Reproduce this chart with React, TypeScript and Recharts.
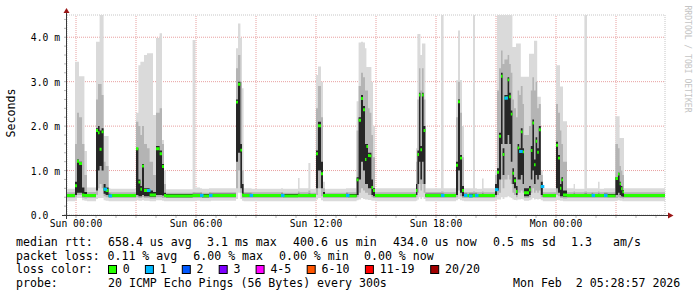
import React from 'react';
import { Area, CartesianGrid, ComposedChart, ReferenceLine, Scatter, XAxis, YAxis } from 'recharts';

// hours since Sun 00:00, one row per step change of the smoke
const hours = [
    -0.45, -0.05, 0.05, 0.15, 0.3, 0.42, 0.55, 1.0, 1.1, 1.18,
    1.28, 1.38, 1.48, 1.63, 1.72, 3.0, 3.12, 3.22, 3.3, 3.4,
    3.55, 3.68, 3.85, 4.0, 4.18, 4.3, 4.4, 4.5, 5.83, 5.97,
    6.2, 6.3, 6.65, 6.75, 8.0, 8.1, 8.22, 8.3, 8.38, 8.68,
    8.78, 10.25, 10.35, 11.1, 11.18, 11.62, 11.72, 12.0, 12.1, 12.25,
    12.35, 12.45, 13.5, 13.6, 14.03, 14.13, 14.25, 14.35, 14.45, 14.52,
    14.6, 14.68, 14.77, 14.85, 14.95, 17.0, 17.07, 17.15, 17.22, 17.3,
    17.38, 17.47, 18.25, 18.38, 19.0, 19.1, 19.2, 19.3, 19.4, 19.55,
    19.65, 19.85, 19.95, 20.05, 20.3, 20.38, 20.95, 21.05, 21.15, 21.25,
    21.33, 21.42, 21.5, 21.58, 21.66, 21.74, 21.82, 21.9, 22.0, 22.08,
    22.16, 22.24, 22.33, 22.4, 22.65, 22.74, 22.82, 22.9, 22.98, 23.06,
    23.14, 23.24, 23.34, 24.0, 24.1, 24.2, 24.27, 24.35, 24.55, 24.88,
    24.95, 25.42, 25.55, 25.78, 25.86, 26.1, 26.18, 26.4, 26.58, 26.97,
    27.1, 27.18, 27.25, 27.32, 27.4, 29.45,
];

// rtt in ms
const minRtt = [
    .31, .33, .38, .38, .33, .32, .31, .36, .38, .38,
    .38, .33, .32, .31, .31, .33, .32, .32, .33, .32,
    .32, .31, .31, .33, .33, .32, .31, .31, .31, .32,
    .31, .31, .31, .32, .36, .5, .36, .32, .31, .31,
    .31, .31, .31, .31, .31, .31, .31, .35, .38, .33,
    .31, .31, .31, .31, .33, .35, .38, .36, .35, .35,
    .34, .34, .32, .32, .31, .32, .35, .4, .36, .4,
    .36, .31, .31, .31, .33, .36, .33, .32, .31, .31,
    .31, .31, .31, .31, .31, .31, .33, .35, .35, .4,
    .36, .4, .4, .42, .4, .38, .35, .34, .33, .35,
    .35, .36, .35, .32, .33, .35, .38, .35, .36, .35,
    .36, .33, .31, .34, .33, .32, .32, .31, .31, .31,
    .31, .31, .31, .31, .31, .31, .31, .31, .31, .32,
    .33, .32, .32, .31, .31, .31,
];
const p10Rtt = [
    .38, .40, .45, .45, .38, .37, .38, .45, .6, .7,
    .6, .42, .4, .38, .38, .4, .38, .38, .4, .38,
    .38, .37, .37, .4, .4, .38, .38, .38, .38, .38,
    .38, .38, .38, .38, .6, 1.0, .5, .38, .38, .38,
    .38, .38, .38, .38, .38, .38, .38, .45, .6, .42,
    .38, .38, .38, .38, .4, .5, .6, .55, .5, .5,
    .45, .45, .4, .38, .38, .4, .5, .7, .55, .7,
    .5, .38, .38, .38, .4, .55, .42, .38, .38, .38,
    .38, .38, .38, .38, .38, .38, .4, .45, .5, .8,
    .6, .8, .8, .9, .8, .7, .5, .45, .4, .5,
    .5, .55, .5, .38, .4, .5, .6, .5, .55, .5,
    .55, .4, .38, .45, .42, .38, .38, .37, .38, .38,
    .38, .38, .38, .38, .38, .38, .38, .38, .38, .38,
    .4, .38, .38, .37, .38, .38,
];
const loRtt = [
    .41, .45, .50, .50, .42, .41, .41, .55, 1.0, 1.1,
    1.0, .48, .45, .41, .41, .45, .42, .42, .45, .42,
    .42, .41, .41, .45, .45, .44, .41, .40, .41, .41,
    .41, .40, .41, .41, 1.2, 1.4, .6, .42, .41, .41,
    .41, .41, .41, .41, .41, .41, .41, .6, 1.0, .6,
    .41, .41, .41, .41, .45, .8, 1.2, 1.0, .7, .7,
    .6, .6, .45, .42, .41, .45, .7, 1.2, .8, 1.2,
    .7, .41, .41, .41, .45, 1.0, .5, .42, .41, .41,
    .41, .41, .41, .41, .41, .41, .45, .55, .8, 1.6,
    .9, 1.6, 1.6, 1.8, 1.6, 1.2, .7, .6, .45, .8,
    .8, .9, .7, .42, .45, .8, 1.0, .7, .9, .8,
    .9, .45, .41, .6, .5, .42, .42, .41, .41, .41,
    .41, .41, .41, .41, .41, .41, .41, .41, .41, .45,
    .5, .45, .42, .41, .41, .41,
];
const hiRtt = [
    .47, .75, 1.25, 1.2, .62, .52, .47, 1.95, 2.0, 1.9,
    1.95, .7, .62, .48, .47, 1.5, .8, .65, 1.15, .6,
    .6, .55, .52, 1.55, 1.45, 1.15, .5, .47, .48, .48,
    .48, .47, .48, .48, 2.6, 3.0, 1.6, .7, .48, .48,
    .47, .48, .47, .48, .47, .48, .47, 1.45, 2.1, 1.2,
    .52, .47, .48, .47, .85, 2.2, 2.7, 2.45, 1.6, 1.6,
    1.4, 1.4, .8, .6, .47, .7, 1.45, 2.75, 1.55, 2.75,
    2.0, .48, .48, .47, 1.2, 2.6, 1.35, .65, .48, .47,
    .48, .48, .48, .47, .48, .47, .7, 1.05, 1.85, 3.2,
    1.5, 2.7, 2.7, 3.1, 2.75, 2.35, 1.05, .85, .65, 1.6,
    1.5, 1.95, 1.5, .6, .65, 1.55, 2.15, 1.25, 1.75, 1.5,
    2.0, .75, .47, 1.65, 1.35, .7, .85, .55, .47, .48,
    .47, .48, .47, .48, .47, .48, .47, .48, .47, .85,
    .95, .75, .65, .56, .47, .47,
];
const p90Rtt = [
    .51, 1.6, 2.3, 2.2, 1.6, .9, .52, 2.6, 2.95, 2.95,
    2.7, 1.2, 1.1, .52, .51, 2.1, 2.0, 1.8, 2.0, 1.6,
    1.5, 1.2, .9, 2.3, 2.4, 1.6, .7, .50, .52, .51,
    .52, .50, .52, .51, 3.3, 3.6, 3.0, 1.0, .52, .52,
    .51, .52, .50, .53, .51, .55, .50, 2.4, 2.9, 2.2,
    .6, .50, .52, .51, 1.9, 2.9, 3.2, 3.1, 2.8, 2.8,
    2.4, 2.3, 1.8, 1.3, .51, 1.2, 2.6, 3.3, 2.8, 3.3,
    2.6, .52, .53, .51, 2.2, 3.0, 2.3, 1.3, .52, .51,
    .52, .53, .52, .51, .53, .51, .9, 2.8, 3.3, 3.7,
    3.4, 3.5, 3.5, 3.6, 3.4, 3.2, 2.6, 2.4, 2.2, 2.8,
    2.7, 2.9, 2.5, 1.8, 2.0, 2.8, 3.1, 2.8, 3.0, 2.4,
    2.5, .9, .51, 2.5, 2.3, 1.9, 1.6, 1.2, .51, .53,
    .51, .53, .51, .52, .51, .53, .51, .52, .51, 1.6,
    1.5, 1.1, 1.0, .9, .51, .51,
];
const maxRtt = [
    .59, 3.45, 3.45, 3.12, 3.12, 1.44, .62, 3.9, 3.9, 4.5,
    4.5, 1.78, 1.78, .6, .59, 2.3, 3.37, 3.45, 3.45, 3.6,
    3.64, 3.64, 2.25, 3.98, 4.09, 1.69, 1.0, .58, 3.94, .62,
    .6, .59, .6, .6, 3.75, 4.31, 3.98, 2.85, .6, .6,
    .59, .6, .59, .83, .6, 1.17, .59, 3.15, 3.34, 3.0,
    .75, .59, .6, .6, 2.56, 3.88, 3.9, 3.88, 3.75, 3.33,
    3.33, 3.33, 2.99, 2.0, .6, 1.5, 4.07, 4.07, 3.6, 3.86,
    3.86, .6, 4.5, .6, 3.03, 4.15, 3.04, 2.0, .6, .6,
    .6, 4.5, .6, .59, .82, .6, 1.0, 4.5, 4.5, 4.5,
    4.5, 4.5, 4.5, 4.5, 4.5, 4.5, 3.78, 3.78, 3.86, 3.86,
    3.86, 3.11, 3.11, 3.11, 3.63, 3.63, 3.63, 3.92, 3.92, 2.66,
    2.66, 1.0, .6, 3.37, 3.37, 2.89, 2.89, 2.11, .6, .7,
    .59, 4.5, .6, .6, .6, .75, .59, .6, .6, 2.22,
    2.22, 1.73, 1.73, 1.73, .6, .6,
];
const medianRtt = [
    .44, .66, 1.21, 1.16, .45, .44, .44, 1.9, 1.85, 1.48,
    1.87, .58, .55, .43, .44, 1.49, .74, .58, 1.1, .55,
    .55, .45, .45, 1.49, 1.38, 1.09, .44, .43, .44, .44,
    .44, .43, .44, .44, 2.54, 2.94, 1.46, .45, .44, .44,
    .44, .44, .43, .44, .44, .44, .44, 1.38, 2.01, .93,
    .44, .44, .44, .43, .79, 2.13, 2.62, 2.37, 1.25, 1.54,
    1.34, 1.33, .62, .55, .44, .55, 1.36, 2.7, 1.47, 2.7,
    1.9, .44, .44, .44, 1.12, 2.55, 1.28, .55, .44, .44,
    .43, .44, .44, .44, .44, .44, .57, .96, 1.77, 3.12,
    1.36, 2.63, 2.64, 3.04, 2.66, 2.27, .94, .77, .53, 1.51,
    1.43, 1.87, 1.42, .5, .57, 1.45, 2.07, 1.13, 1.66, 1.41,
    1.92, .64, .44, 1.57, 1.28, .6, .79, .45, .44, .44,
    .44, .44, .44, .44, .44, .44, .44, .44, .43, .82,
    .92, .7, .59, .52, .44, .44,
];
// lost pings out of 20
const lostPings = [
    0, 0, 0, 0, 0, 0, 0, 0, 0, 0,
    0, 1, 0, 1, 0, 0, 0, 0, 0, 0,
    1, 0, 0, 0, 0, 0, 0, 0, 0, 0,
    1, 0, 1, 0, 0, 0, 0, 0, 0, 1,
    0, 1, 0, 0, 0, 0, 0, 0, 0, 0,
    0, 0, 1, 0, 0, 0, 0, 0, 0, 0,
    0, 0, 0, 0, 0, 0, 0, 0, 0, 0,
    0, 0, 1, 0, 0, 0, 0, 0, 1, 0,
    1, 0, 1, 0, 0, 0, 1, 0, 0, 0,
    0, 1, 0, 0, 0, 0, 0, 0, 0, 0,
    1, 0, 0, 0, 0, 0, 0, 0, 0, 0,
    0, 1, 0, 0, 0, 0, 0, 0, 0, 0,
    0, 0, 0, 1, 0, 0, 0, 1, 0, 0,
    0, 0, 0, 0, 0, 0,
];

const lossLabels = ['0', '1', '2', '3', '4-5', '6-10', '11-19', '20/20'];
const lossColors = ['#26ff00', '#00b8ff', '#0059ff', '#7e00ff', '#ff00ff', '#ff5500', '#ff0000', '#a10000'];

const xLabelHours = [0, 6, 12, 18, 24];
const xLabels = ['Sun 00:00', 'Sun 06:00', 'Sun 12:00', 'Sun 18:00', 'Mon 00:00'];
const hourTicks = Array.from({ length: 30 }, (_, i) => i);
const majorHours = hourTicks.filter((h) => h % 3 === 0);
const yTicks = Array.from({ length: 23 }, (_, i) => i / 5);
const majorY = [1, 2, 3, 4];

const MONO = "'DejaVu Sans Mono', monospace";
const W = 697;
const H = 297;
const MARGIN = { top: 15, right: 32, bottom: 52, left: 17 };
const X_DOMAIN: [number, number] = [-0.45, 29.45];
const Y_DOMAIN: [number, number] = [0, 4.5];
const MED_HALF = 0.033;

const rows = hours.map((h, i) => ({
    h,
    min: minRtt[i],
    p10: p10Rtt[i],
    lo: loRtt[i],
    hi: hiRtt[i],
    p90: p90Rtt[i],
    max: maxRtt[i],
    med: medianRtt[i],
    loss: lostPings[i],
}));
const lossRows = rows.filter((r) => r.loss > 0);

const lossBucket = (n: number) => {
    if (n <= 3) return n;
    if (n <= 5) return 4;
    if (n <= 10) return 5;
    if (n <= 19) return 6;
    return 7;
};

const YTick = ({ x, y, payload }: any) => {
    const v = payload.value;
    if (Math.abs(v - Math.round(v)) > 1e-6) return <g />;
    const label = v === 0 ? '0.0  ' : `${v.toFixed(1)} m`;
    return (
        <text x={x} y={y} dy="0.42em" textAnchor="end" fontFamily={MONO} fontSize={9.7} fill="#000"
            style={{ whiteSpace: 'pre' }} xmlSpace="preserve">
            {label}
        </text>
    );
};

const xFmt = (h: number) => {
    const i = xLabelHours.indexOf(h);
    return i >= 0 ? xLabels[i] : '';
};

const LossMark = (p: any) => (
    <rect x={p.cx} y={p.cy - 1.5} width={3.5} height={3} fill={lossColors[lossBucket(p.payload.loss)]} />
);

const legendRows = [
    { y: 241.7, items: [[16, 'median rtt:'], [108, '658.4 us avg'], [207, '3.1 ms max'], [293, '400.6 us min'], [393, '434.0 us now'], [493, '0.5 ms sd'], [571, '1.3'], [613, 'am/s']] },
    { y: 255.7, items: [[16, 'packet loss:'], [107.5, '0.11 % avg'], [193.3, '6.00 % max'], [279, '0.00 % min'], [364, '0.00 % now']] },
    { y: 269.3, items: [[16, 'loss color:']] },
    { y: 283.3, items: [[16, 'probe:'], [108, '20 ICMP Echo Pings (56 Bytes) every 300s'], [513, 'Mon Feb  2 05:28:57 2026']] },
];

const CHAR_W = 6.98;

const App: React.FC = () => {
    // loss colour boxes, laid out one after another like rrdtool does
    let cursor = 108;
    const boxes = lossLabels.map((lab, i) => {
        const bx = cursor;
        const lx = bx + 14.8;
        cursor = lx + lab.length * 7.1 + 15;
        return { bx, lx, lab, color: lossColors[i] };
    });

    return (
        <div style={{ position: 'absolute', left: 0, top: 0, width: W, height: H, background: '#fff' }}>
            {/* grid layer, drawn under the smoke */}
            <div style={{ position: 'absolute', left: 0, top: 0 }}>
                <ComposedChart width={W} height={H} data={rows} margin={MARGIN}>
                    <XAxis type="number" dataKey="h" domain={X_DOMAIN} allowDataOverflow ticks={hourTicks}
                        interval={0} tick={false} axisLine={false} tickLine={false} height={30} />
                    <YAxis type="number" domain={Y_DOMAIN} allowDataOverflow ticks={yTicks} interval={0}
                        tick={false} axisLine={false} tickLine={false} width={50} />
                    <CartesianGrid stroke="#c6c6c6" strokeDasharray="1 1" />
                    {majorHours.map((h) => (
                        <ReferenceLine key={`vx${h}`} x={h} stroke="#e8a0a0" strokeDasharray="1 1" />
                    ))}
                    {majorY.map((v) => (
                        <ReferenceLine key={`hy${v}`} y={v} stroke="#e8a0a0" strokeDasharray="1 1" />
                    ))}
                </ComposedChart>
            </div>
            {/* smoke + median layer */}
            <div style={{ position: 'absolute', left: 0, top: 0 }}>
                <ComposedChart width={W} height={H} data={rows} margin={MARGIN}>
                    <XAxis type="number" dataKey="h" domain={X_DOMAIN} allowDataOverflow ticks={hourTicks}
                        interval={0} tickFormatter={xFmt} tickSize={3} tickMargin={2.6} height={30}
                        axisLine={false} tickLine={{ stroke: '#b8b8b8' }}
                        tick={{ fontFamily: MONO, fontSize: 9.7, fill: '#000' }} />
                    <YAxis type="number" domain={Y_DOMAIN} allowDataOverflow ticks={yTicks} interval={0}
                        tick={<YTick />} tickSize={3} tickMargin={4} width={50}
                        axisLine={false} tickLine={{ stroke: '#b8b8b8' }} />
                    <Area type="stepAfter" dataKey={(d: any) => [d.min, d.max]} fill="#dadada" fillOpacity={1}
                        stroke="none" dot={false} activeDot={false} isAnimationActive={false} />
                    <Area type="stepAfter" dataKey={(d: any) => [d.p10, d.p90]} fill="#b4b4b4" fillOpacity={1}
                        stroke="none" dot={false} activeDot={false} isAnimationActive={false} />
                    <Area type="stepAfter" dataKey={(d: any) => [d.lo, d.hi]} fill="#262626" fillOpacity={1}
                        stroke="none" dot={false} activeDot={false} isAnimationActive={false} />
                    <Area type="stepAfter" dataKey={(d: any) => [d.med - MED_HALF, d.med + MED_HALF]}
                        fill={lossColors[0]} fillOpacity={1} stroke="none" dot={false} activeDot={false}
                        isAnimationActive={false} />
                    <Scatter data={lossRows} dataKey="med" shape={<LossMark />} isAnimationActive={false} />
                </ComposedChart>
            </div>
            {/* frame, arrows, titles and legend */}
            <svg width={W} height={H} style={{ position: 'absolute', left: 0, top: 0 }}>
                <line x1={62} y1={215.5} x2={670} y2={215.5} stroke="#3a3a3a" strokeWidth={1} />
                <line x1={66.5} y1={219} x2={66.5} y2={12} stroke="#3a3a3a" strokeWidth={1} />
                <polygon points="63.5,13 69.5,13 66.5,8" fill="#9a1515" />
                <polygon points="668,212.5 668,218.5 673.5,215.5" fill="#9a1515" />
                <text x={11} y={113} transform="rotate(-90 11 113)" textAnchor="middle" dominantBaseline="central"
                    fontFamily={MONO} fontSize={11.6} fill="#000">Seconds</text>
                <text x={687.5} y={59} transform="rotate(90 687.5 59)" textAnchor="middle" dominantBaseline="central"
                    fontFamily={MONO} fontSize={8.1} fill="#c4c4c4">RRDTOOL / TOBI OETIKER</text>
                {legendRows.map((r, ri) =>
                    r.items.map(([x, t], ii) => (
                        <text key={`${ri}-${ii}`} x={x as number} y={r.y} dominantBaseline="central"
                            fontFamily={MONO} fontSize={CHAR_W / 0.602} fill="#000"
                            style={{ whiteSpace: 'pre' }} xmlSpace="preserve">{t}</text>
                    )),
                )}
                {boxes.map((b) => (
                    <g key={b.lab}>
                        <rect x={b.bx + 0.5} y={265.5} width={8} height={8} fill={b.color} stroke="#000" strokeWidth={1} />
                        <text x={b.lx} y={269.3} dominantBaseline="central" fontFamily={MONO}
                            fontSize={CHAR_W / 0.602} fill="#000">{b.lab}</text>
                    </g>
                ))}
            </svg>
        </div>
    );
};

export default App;
